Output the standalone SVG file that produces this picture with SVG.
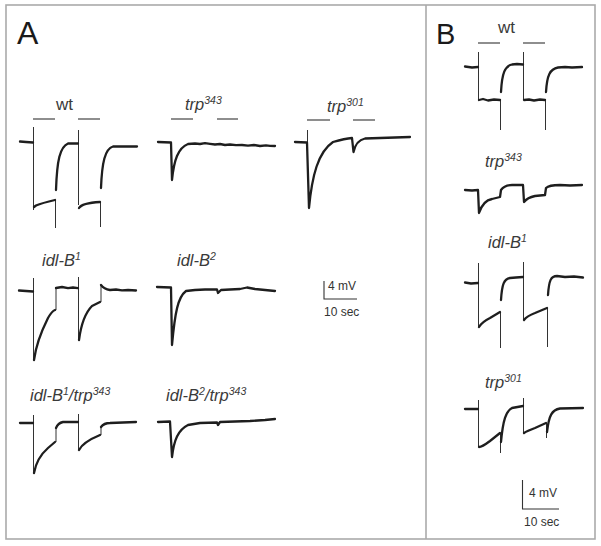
<svg xmlns="http://www.w3.org/2000/svg" width="601" height="546" viewBox="0 0 601 546">
<style>
.frame{fill:none;stroke:#aaaaaa;stroke-width:1.6}
.tr{fill:none;stroke:#1e1e1e;stroke-width:2.3;stroke-linejoin:round;stroke-linecap:round}
.sp{fill:none;stroke:#333;stroke-width:1}
.bar{fill:none;stroke:#6a6a6a;stroke-width:1.3}
.sc{fill:none;stroke:#333;stroke-width:1.1}
.lab{font-family:"Liberation Sans",Arial,sans-serif;font-style:italic;font-size:16.5px;fill:#3a3a3a}
.up{font-family:"Liberation Sans",Arial,sans-serif;font-size:17px;fill:#3a3a3a}
.sup{font-size:10.5px}
.pl{font-family:"Liberation Sans",Arial,sans-serif;font-size:32px;fill:#1a1a1a}
.scl{font-family:"Liberation Sans",Arial,sans-serif;font-size:12px;fill:#333}
</style>
<rect width="601" height="546" fill="#fff"/>
<rect class="frame" x="6" y="5" width="589" height="534"/>
<line class="frame" x1="426" y1="5" x2="426" y2="539"/>
<text class="pl" x="17" y="44">A</text>
<text class="pl" x="436" y="44" style="font-size:29px">B</text>

<g id="A-wt">
<text class="up" x="56" y="110">wt</text>
<path class="bar" d="M33,119H55M78,119H100"/>
<path class="sp" d="M33.5,127V210M55.5,200V228M78.5,130V205M100.5,202V227"/>
<path class="tr" d="M20,141.5L26,142L33,142.5"/>
<path class="tr" d="M34,207L36,205.5Q42,203 55,200"/>
<path class="tr" d="M56,190C57,160 60,147 68,143.5L78,143.5"/>
<path class="tr" d="M79,208Q82,203 100,202"/>
<path class="tr" d="M101,188C102,162 105,149 113,146.5L137,146.5"/>
</g>

<g id="A-trp343">
<text class="lab" x="185" y="110">trp<tspan class="sup" dy="-6">343</tspan></text>
<path class="bar" d="M171,119H193M217,119H238"/>
<path class="tr" d="M158,142L171,142.5L172,180C174,160 178,148 188,144L195,143.5L200,144L205,143.2L210,143.8L215,144.5L220,144L225,145L230,144.5L236,145.2L242,145L248,145.6L254,145L260,146L266,145.4L270,145.8L275,146"/>
</g>

<g id="A-trp301">
<text class="lab" x="327" y="112">trp<tspan class="sup" dy="-6">301</tspan></text>
<path class="bar" d="M307,120H330M353,120H375"/>
<path class="sp" d="M307.5,130V142"/>
<path class="tr" d="M295,142L307,142.5L309,208C312,176 318,152 333,142Q345,138.5 352,138L353.5,152C355,145 358,140 365,138.5L380,138L395,137.5L410,137"/>
</g>

<g id="A-idlB1">
<text class="lab" x="42" y="266">idl-B<tspan class="sup" dy="-6">1</tspan></text>
<path class="sp" d="M33.5,278V360M56,310V287M78.5,277V340M101,302V285"/>
<path class="tr" d="M19,290.5L26,291L33,291.5"/>
<path class="tr" d="M34,360C36,345 42,330 48,318Q52,311 55,310"/>
<path class="tr" d="M56,288L62,287L68,288.2L73,287.5L78,288.2"/>
<path class="tr" d="M79,340C81,325 85,313 92,306L100,302"/>
<path class="tr" d="M101,285Q104,289 110,290L116,289.5L122,290.3L128,290L136,290.5"/>
</g>

<g id="A-idlB2">
<text class="lab" x="177" y="266">idl-B<tspan class="sup" dy="-6">2</tspan></text>
<path class="tr" d="M157,287L171,287.5L172,345C175,312 178,297 186,291L195,290L205,289.5L217,289.5L218,293L221,290L230,289.5L240,289L247,287.5L255,289L265,290L275,291"/>
</g>

<g id="A-idlB1-trp343">
<text class="lab" x="30" y="401">idl-B<tspan class="sup" dy="-6">1</tspan><tspan dy="6">/trp</tspan><tspan class="sup" dy="-6">343</tspan></text>
<path class="sp" d="M33.5,415V473M56,442V428M78.5,414V450M101,435V427"/>
<path class="tr" d="M20,423L33,423"/>
<path class="tr" d="M34,473C36,462 40,455 48,448L55,442"/>
<path class="tr" d="M56,428Q58,423 63,422L78,422"/>
<path class="tr" d="M79,450C82,444 88,440 100,435"/>
<path class="tr" d="M101,427Q104,423 110,423L136,422"/>
</g>

<g id="A-idlB2-trp343">
<text class="lab" x="166" y="401">idl-B<tspan class="sup" dy="-6">2</tspan><tspan dy="6">/trp</tspan><tspan class="sup" dy="-6">343</tspan></text>
<path class="tr" d="M158,422L170,421.5L172,457C174,440 178,430 188,425L200,423L217,422.5L218,425L220,422L235,421.5L250,421L265,420L275,419"/>
</g>

<g id="A-scale">
<path class="sc" d="M324,281V299H357"/>
<text class="scl" x="328" y="290">4 mV</text>
<text class="scl" x="324" y="316">10 sec</text>
</g>

<g id="B-wt">
<text class="up" x="498" y="33">wt</text>
<path class="bar" d="M478,43H500M523,43H545"/>
<path class="sp" d="M478.5,52V100M500.5,100V130M523.5,52V100M545.5,100V130"/>
<path class="tr" d="M465,66.5L472,67.5L478,67"/>
<path class="tr" d="M479,100L483,99L488,100.5L494,99.5L500,100"/>
<path class="tr" d="M501,92C502,73 505,66 512,64.5L517,64L523,64.5"/>
<path class="tr" d="M524,100L529,99.5L534,100.5L540,99.5L545,100"/>
<path class="tr" d="M546,92C547,75 550,69 558,67.5L565,67L572,67.5L582,67"/>
</g>

<g id="B-trp343">
<text class="lab" x="485" y="167">trp<tspan class="sup" dy="-6">343</tspan></text>
<path class="tr" d="M465,190L472,190.5L478,190L479,213C482,204 486,200 492,199L500,197L501,190C503,187 506,185 512,185L523,185L524,202C527,198 530,197 535,196L545,195L546,188C548,186 552,185 560,185L570,185.5L582,185"/>
</g>

<g id="B-idlB1">
<text class="lab" x="488" y="248">idl-B<tspan class="sup" dy="-6">1</tspan></text>
<path class="sp" d="M478.5,263V327M500.5,312V348M523.5,262V320M547.5,308V347"/>
<path class="tr" d="M465,282.5L471,283.5L478,283"/>
<path class="tr" d="M479,327Q482,322 490,318L500,312"/>
<path class="tr" d="M501,300C502,284 504,279 510,278L516,277.5L523,277"/>
<path class="tr" d="M524,320Q527,316 535,313L547,308"/>
<path class="tr" d="M548,295C549,280 551,276 557,276L565,277L574,276.5L583,277.5"/>
</g>

<g id="B-trp301">
<text class="lab" x="485" y="388">trp<tspan class="sup" dy="-6">301</tspan></text>
<path class="sp" d="M478.5,400V447M500.5,433V453M523.5,398V433M546.5,423V438"/>
<path class="tr" d="M465,409L478,409"/>
<path class="tr" d="M479,447Q482,447 490,441L500,433"/>
<path class="tr" d="M501,442C503,420 506,411 512,408L523,406"/>
<path class="tr" d="M524,433Q527,431 535,428L546,423"/>
<path class="tr" d="M547,432C549,415 552,410 560,408.5L583,408"/>
</g>

<g id="B-scale">
<path class="sc" d="M522.5,480V509H559"/>
<text class="scl" x="529" y="497">4 mV</text>
<text class="scl" x="524" y="526">10 sec</text>
</g>
</svg>
